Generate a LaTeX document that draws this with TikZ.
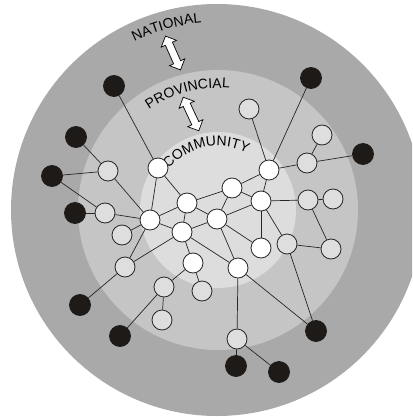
\documentclass[tikz,border=0pt]{standalone}
\usepackage{fontspec}
\newfontfamily\ringfont{Liberation Sans}
\usepackage{tikz}
\usetikzlibrary{ decorations.text, shapes.arrows }
\definecolor{natgray}{RGB}{169,169,169}
\definecolor{provgray}{RGB}{197,197,197}
\definecolor{comgray}{RGB}{221,221,221}
\definecolor{dotgray}{RGB}{222,222,222}
\definecolor{dotblack}{RGB}{30,26,24}
\tikzset{
every node/.style={inner sep=1pt},
dot/.style={circle, draw=black!85, line width=0.8pt, minimum size=20pt}, % base look of every circle
com/.style={dot, fill=white}, % community level
prov/.style={dot, fill=dotgray}, % provincial level
nat/.style={dot, draw=dotblack, fill=dotblack, minimum size=21pt}, % national level
link/.style={line width=0.7pt, draw=black!85},
updown/.style={double arrow, draw=black, fill=white, line width=0.7pt,
  inner sep=3.5pt, double arrow head extend=4.5pt, minimum height=37pt},
}

\begin{document}
\begin{tikzpicture}[x=1pt,y=1pt]
  \useasboundingbox (0,0) rectangle (412,-417);
  \clip (0,0) rectangle (412,-417);
  % rings
  \fill[natgray] (217,-210) circle[radius=206pt];
  \fill[provgray] (218,-210) circle[radius=140pt];
  \fill[comgray] (218,-210) circle[radius=78pt];

  % ring names
  \path[decorate, decoration={text along path, text align=center,
    text={|\ringfont\fontsize{14pt}{14pt}\selectfont|NATIONAL}}]
    ([shift={(145.7:188pt)}]218,-210) arc[start angle=145.7, end angle=65.7, radius=188pt];
  \path[decorate, decoration={text along path, text align=center,
    text={|\ringfont\fontsize{14pt}{14pt}\selectfont|PROVINCIAL}}]
    ([shift={(144.5:122pt)}]218,-210) arc[start angle=144.5, end angle=64.5, radius=122pt];
  \path[decorate, decoration={text along path, text align=center,
    text={|\ringfont\fontsize{14pt}{14pt}\selectfont|COMMUNITY}}]
    ([shift={(161.5:64pt)}]218,-210) arc[start angle=161.5, end angle=41.5, radius=64pt];

  \node[updown, rotate=114] (up1) at (173,-53) {};
  \node[updown, rotate=115] (up2) at (191,-114) {};

  % community
  \node[com] (c1) at (158,-168) {};
  \node[com] (c2) at (187,-203) {};
  \node[com] (c3) at (150,-220) {};
  \node[com] (c4) at (182,-232) {};
  \node[com] (c5) at (217,-219) {};
  \node[com] (c6) at (232,-188) {};
  \node[com] (c7) at (269,-170) {};
  \node[com] (c8) at (261,-201) {};
  \node[com] (c9) at (261,-248) {};
  \node[com] (c10) at (238,-268) {};
  \node[com] (c11) at (193,-263) {};

  % provincial
  \node[prov] (p1) at (108,-171) {};
  \node[prov] (p2) at (105,-213) {};
  \node[prov] (p3) at (122,-235) {};
  \node[prov] (p4) at (125,-267) {};
  \node[prov] (p5) at (164,-287) {};
  \node[prov] (p6) at (162,-320) {};
  \node[prov] (p7) at (202,-291) {};
  \node[prov] (p8) at (249,-109) {};
  \node[prov] (p9) at (322,-135) {};
  \node[prov] (p10) at (307,-163) {};
  \node[prov] (p11) at (308,-200) {};
  \node[prov] (p12) at (333,-199) {};
  \node[prov] (p13) at (287,-244) {};
  \node[prov] (p14) at (331,-249) {};
  \node[prov] (p15) at (237,-339) {};

  % national
  \node[nat] (n1) at (114,-86) {};
  \node[nat] (n2) at (311,-78) {};
  \node[nat] (n3) at (76,-137) {};
  \node[nat] (n4) at (52,-176) {};
  \node[nat] (n5) at (75,-213) {};
  \node[nat] (n6) at (363,-154) {};
  \node[nat] (n7) at (80,-305) {};
  \node[nat] (n8) at (120,-336) {};
  \node[nat] (n9) at (316,-331) {};
  \node[nat] (n10) at (236,-366) {};
  \node[nat] (n11) at (279,-372) {};

  \path[link]
  (n1) edge (c1)
  (n2) edge (c7)
  (n3) edge (p1)
  (n4) edge (p1) edge (p2)
  (n5) edge (p2)
  (n6) edge (p10)
  (n7) edge (p4)
  (n8) edge (p5)
  (n9) edge (c10) edge (p13)
  (n10) edge (p15)
  (n11) edge (p15)

  (p1) edge (c3)
  (p2) edge (c3)
  (p3) edge (c3)
  (p4) edge (c3) edge (c4)
  (p5) edge (c11) edge (p6)
  (p7) edge (c11)
  (p8) edge (c7)
  (p9) edge (p10)
  (p10) edge (c7)
  (p11) edge (c8) edge (p12) edge (p14)
  (p13) edge (c8) edge (p14)
  (p15) edge (c10)

  (c1) edge (c2) edge (c3)
  (c2) edge (c3) edge (c4) edge (c5) edge (c6)
  (c3) edge (c4)
  (c4) edge (c5) edge (c10) edge (c11)
  (c5) edge (c6) edge (c8) edge (c9) edge (c10)
  (c6) edge (c7) edge (c8)
  (c7) edge (c8)
  (c8) edge (c9);
\end{tikzpicture}
\end{document}
